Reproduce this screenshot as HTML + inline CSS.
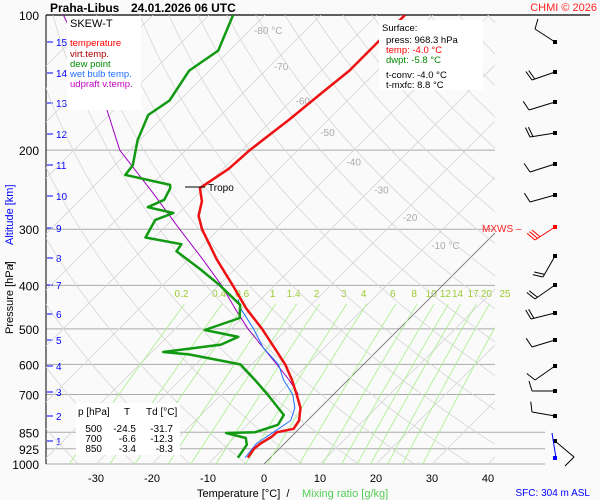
<!DOCTYPE html>
<html><head><meta charset="utf-8"><style>
body{margin:0;background:#fafafa;}
svg{display:block;font-family:"Liberation Sans",sans-serif;}
text{white-space:pre;}
</style></head><body>
<svg id="c" width="600" height="500" viewBox="0 0 600 500"></svg>
<script>
const tempP=[100,115,133,150,171,200,220,243,260,280,300,350,400,450,500,550,600,650,700,750,800,835,850,870,900,925,968];
const tempT=[-55,-55,-55,-56,-57,-58.6,-59,-60.7,-58,-56,-53,-45,-37.5,-31,-24.5,-19,-14,-10,-6.6,-3.5,-1.5,-1.0,-3.4,-3.5,-4.3,-4.5,-4.0];
const dewP=[100,120,133,155,167,190,216,227,239,243,258,268,276,286,313,324,336,369,400,442,473,503,521,542,563,570,600,650,702,778,818,850,853,875,906,968];
const dewT=[-85.7,-82,-83.6,-81.8,-83,-80.4,-76.8,-76.4,-66.6,-66,-65,-66.6,-61,-63,-61.6,-54,-53.6,-46,-39.8,-32.7,-30.4,-34.5,-27.3,-29,-38,-33,-22,-16.6,-11.6,-5.2,-4.5,-7.3,-12.3,-7.9,-6.5,-5.8];
const wbP=[968,900,850,800,750,700,650,600,550,500,450,430];
const wbT=[-4.5,-5,-4,-3,-4.5,-7.3,-11.5,-15.2,-21,-26,-32,-34];
const updP=[100,150,200,250,300,350,400,450,500,550,600,650,700];
const updT=[-116,-95,-81.8,-68,-57,-47.5,-39.5,-33,-27,-21,-15.5,-10.5,-6.3];
const mixW=[0.2,0.4,0.6,1,1.4,2,3,4,6,8,10,12,14,17,20,25];
const pLevels=[100,200,300,400,500,600,700,850,925,1000];
const tTicks=[-30,-20,-10,0,10,20,30,40];
const altKm=[15,14,13,12,11,10,9,8,7,6,5,4,3,2,1];
const altY=[42,73,103,134,165,196,228,258,285,314,340,366,392,416,441];
const isoLbl=[-80,-70,-60,-50,-40,-30,-20,-10];
const isoLblP=[108,130,155,182,212,245,282,325];
const tblP=['500','700','850'];
const tblT=['-24.5','-6.6','-3.4'];
const tblTd=['-31.7','-12.3','-8.3'];

const svg=document.getElementById('c');
const NS='http://www.w3.org/2000/svg';
const L=46,R=495,T0=15,B=464;
function yOf(p){return T0+(B-T0)*Math.log10(p/100);}
function xOf(t,p){const y=yOf(p);return 264+5.6*t+(B-y);}
function mk(tag,at,par){const e=document.createElementNS(NS,tag);for(const k in at)e.setAttribute(k,at[k]);(par||svg).appendChild(e);return e;}
function txt(s,x,y,at,par){const e=mk('text',Object.assign({x:x,y:y,'font-size':11},at),par);e.textContent=s;return e;}

const defs=mk('defs',{});
const cp=mk('clipPath',{id:'pc'},defs);mk('rect',{x:L,y:T0,width:R-L,height:B-T0},cp);
const grid=mk('g',{'clip-path':'url(#pc)'});


for(let t=-130;t<=40;t+=10){
  const l=mk('line',{x1:xOf(t,1000),y1:B,x2:xOf(t,100),y2:T0,stroke:t===0?'#777':'#d6d6d6','stroke-width':t===0?0.9:0.8},grid);
  
  
}
for(let th=240;th<=480;th+=10){
  let d='';for(let p=1000;p>=100;p-=10){const t=th*Math.pow(p/1000,0.286)-273.15;d+=(p===1000?'M':'L')+xOf(t,p).toFixed(1)+','+yOf(p).toFixed(1);}
  const e=mk('path',{d:d,fill:'none',stroke:'#d6d6d6','stroke-width':0.8},grid);
  
  
}
function tdOf(w,p){const e=w*p/(622+w);const a=Math.log(e/6.112);return 243.5*a/(17.67-a);}
mixW.forEach(w=>{
  let d='';for(let p=1000;p>=440;p-=20){d+=(p===1000?'M':'L')+xOf(tdOf(w,p),p).toFixed(1)+','+yOf(p).toFixed(1);}
  const e=mk('path',{d:d,fill:'none',stroke:'#a6f08a','stroke-width':0.8},grid);
  
  
  const lb=txt(String(w),xOf(tdOf(w,440),440)-3,297,{'font-size':10,fill:'#9acd32','text-anchor':'middle'});
  
  
});
pLevels.forEach(p=>{
  const y=yOf(p);
  const l=mk('line',{x1:L,y1:y,x2:p>=850?545:(p===100?590:R),y2:y,stroke:p===100?'#000':'#aaa','stroke-width':p===100?1.2:1});
  
  
  const t=txt(String(p),39,y+5,{'font-size':12,'text-anchor':'end'});
  
  
});
isoLbl.forEach((t,i)=>{
  const e=txt(t+(i===0||i===7?' °C':''),xOf(t,isoLblP[i])+4,yOf(isoLblP[i])+4,{'font-size':10,fill:'#aaa'});
  
  
});
mk('line',{x1:L,y1:T0,x2:L,y2:B,stroke:'#000'});
tTicks.forEach(t=>{
  const e=txt(String(t),264+5.6*t,482,{'font-size':11,'text-anchor':'middle'});
  
  
});
altKm.forEach((k,i)=>{
  mk('line',{x1:47,y1:altY[i],x2:53,y2:altY[i],stroke:'#00f'});
  const e=txt(String(k),56,altY[i]+4,{'font-size':10,fill:'#00f'});
  
  
});
function series(P,Tv,col,w,name){
  let d='';P.forEach((p,i)=>{d+=(i?'L':'M')+xOf(Tv[i],p).toFixed(1)+','+yOf(p).toFixed(1);});
  const e=mk('path',{d:d,fill:'none',stroke:col,'stroke-width':w,'stroke-linejoin':'round'},grid);
  
  
}
svg.appendChild(grid);
series(updP,updT,'#a000c0',1,'updraft-line');
series(wbP,wbT,'#1e6fff',1,'wet-bulb-line');
series(dewP,dewT,'#119911',2.5,'dewpoint-line');
series(tempP,tempT,'#ee1111',2.5,'temperature-line');
mk('line',{x1:185,y1:187,x2:205,y2:187,stroke:'#000'});
const tr=txt('Tropo',208,191,{'font-size':10});


mk('rect',{x:67,y:16,width:74,height:94,fill:'#fff'});
const lg=[['SKEW-T','#000',27],['temperature','#f00',46],['virt.temp.','#a00',57],['dew point','#080',67],['wet bulb temp.','#1e6fff',77],['udpraft v.temp.','#c000c0',87]];
lg.forEach(a=>{const e=txt(a[0],70,a[2],{'font-size':a[0]==='SKEW-T'?11:9.5,fill:a[1]});});
mk('rect',{x:379,y:20,width:104,height:70,fill:'#fff'});
const sf=[['Surface:','#000',31,382],['press: 968.3 hPa','#000',43,386],['temp: -4.0 °C','#f00',53,386],['dwpt: -5.8 °C','#080',63,386],['t-conv: -4.0 °C','#000',78,386],['t-mxfc: 8.8 °C','#000',88,386]];
sf.forEach(a=>{const e=txt(a[0],a[3],a[2],{'font-size':9.5,fill:a[1]});});
mk('rect',{x:76,y:403,width:104,height:52,fill:'#fff'});
const th1=txt('p [hPa]',78,415,{'font-size':10});
txt('T',127,415,{'font-size':10,'text-anchor':'middle'});
txt('Td [°C]',146,415,{'font-size':10});
tblP.forEach((p,i)=>{
  const y=432+i*10;
  const a=txt(p,102,y,{'font-size':10,'text-anchor':'end'});
  txt(tblT[i],136,y,{'font-size':10,'text-anchor':'end'});
  txt(tblTd[i],173,y,{'font-size':10,'text-anchor':'end'});
});
const ti=txt('Praha-Libus',50,12,{'font-size':12,'font-weight':'bold'});

txt('24.01.2026 06 UTC',131,12,{'font-size':12,'font-weight':'bold'});
const cr=txt('CHMI © 2026',597,11,{'font-size':11,fill:'#f22','text-anchor':'end'});

const xt=txt('Temperature [°C]  /',197,497,{'font-size':11});

const mt=txt('Mixing ratio [g/kg]',302,497,{'font-size':11,fill:'#5c5'});

const sfc=txt('SFC: 304 m ASL',590,496,{'font-size':10,fill:'#00f','text-anchor':'end'});

const ya=txt('Pressure [hPa]',0,0,{'font-size':11,transform:'translate(13,334) rotate(-90)'});

txt('/',0,0,{'font-size':11,transform:'translate(13,266) rotate(-90)'});
const yb=txt('Altitude [km]',0,0,{'font-size':11,fill:'#00f',transform:'translate(13,245) rotate(-90)'});

const mx=txt('MXWS –',482,232,{'font-size':10,fill:'#f22'});

const bY=[42,72,102,133,164,195,227,256,285,313,340,366,391,416];
const bEx=[535,532,529,530,530,530,535,543,535,531,532,535,532,532];
const bEy=[29,80,110,137,172,202,240,277,299,319,347,380,391,412];
const bN=[1,2,1,2,1,1,3,2,2,2,1,1,1,1];
bY.forEach((y,i)=>{
  const col=i===6?'#f00':'#000';
  const g=mk('g',{});
  
  
  mk('rect',{x:553,y:y-2,width:4,height:4,fill:col},g);
  mk('line',{x1:555,y1:y,x2:bEx[i],y2:bEy[i],stroke:col},g);
  let ux=bEx[i]-555,uy=bEy[i]-y;const n=Math.hypot(ux,uy);ux/=n;uy/=n;
  let px=uy,py=-ux;if(py>0){px=-px;py=-py;}
  for(let k=0;k<bN[i];k++){const sx=bEx[i]-ux*k*3,sy=bEy[i]-uy*k*3;mk('line',{x1:sx,y1:sy,x2:sx+px*10+ux*3,y2:sy+py*10+uy*3,stroke:col},g);}
});
const lb=mk('g',{});
mk('rect',{x:553,y:439,width:4,height:4,fill:'#000'},lb);
mk('polyline',{points:'555,441 574,457 565,466',fill:'none',stroke:'#000'},lb);
mk('line',{x1:552,y1:433,x2:556,y2:458,stroke:'#00f'},lb);
mk('rect',{x:553,y:456,width:4,height:4,fill:'#00f'},lb);
</script>
</body></html>
